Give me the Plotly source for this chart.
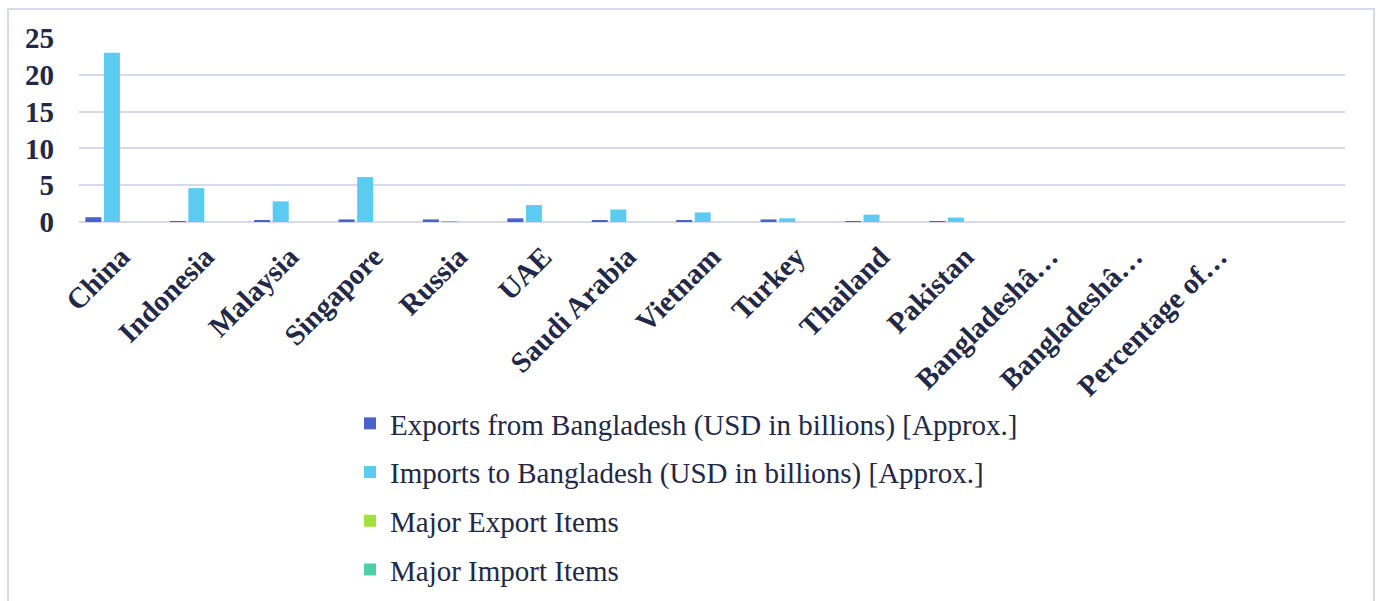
import plotly.graph_objects as go

categories = ["China", "Indonesia", "Malaysia", "Singapore", "Russia", "UAE",
              "Saudi Arabia", "Vietnam", "Turkey", "Thailand", "Pakistan",
              "Bangladeshâ…", "Bangladeshâ…", "Percentage of…"]
exports = [0.65, 0.1, 0.2, 0.35, 0.35, 0.5, 0.2, 0.2, 0.35, 0.05, 0.05, None, None, None]
imports = [23.0, 4.6, 2.8, 6.1, 0.05, 2.3, 1.7, 1.3, 0.5, 1.0, 0.6, None, None, None]
major_export_items = [None] * 14
major_import_items = [None] * 14

series_names = [
    "Exports from Bangladesh (USD in billions) [Approx.]",
    "Imports to Bangladesh (USD in billions) [Approx.]",
    "Major Export Items",
    "Major Import Items",
]
series_values = [exports, imports, major_export_items, major_import_items]
series_colors = ["#4a62cc", "#5ccbf0", "#a3e03c", "#4fcfa8"]

x_idx = list(range(len(categories)))
TEXT = "#222845"
GRID = "#d9d9ec"

fig = go.Figure()
for name, vals, col in zip(series_names, series_values, series_colors):
    fig.add_trace(go.Bar(x=x_idx, y=vals, name=name, marker_color=col,
                         marker_line_width=0, legendgroup=name))

L, R, T, B = 79, 35, 38, 379
W, H = 1380, 601
pw = W - L - R
ph = H - T - B

def px_x(p):
    return (p - L) / pw

def px_y(p):
    return (H - B - p) / ph

fig.update_layout(
    width=W, height=H,
    margin=dict(l=L, r=R, t=T, b=B, autoexpand=False),
    paper_bgcolor="white", plot_bgcolor="white",
    barmode="group", bargap=0.12, bargroupgap=0.14,
    font=dict(family="Liberation Serif, Times New Roman, serif", color=TEXT),
    showlegend=True,
    legend=dict(
        x=px_x(350), y=px_y(398), xanchor="left", yanchor="top",
        orientation="v", font=dict(size=29, color=TEXT),
        tracegroupgap=8, itemwidth=30, bgcolor="rgba(0,0,0,0)",
    ),
    xaxis=dict(
        tickmode="array", tickvals=x_idx, ticktext=categories,
        tickangle=-45, tickfont=dict(size=29, color=TEXT, family="Liberation Serif", weight="bold"),
        showgrid=False, showline=False, ticks="", ticklabelstandoff=11,
        ticklabelshift=0, automargin=False,
        range=[-0.5, len(categories) + 0.5],
    ),
    yaxis=dict(
        range=[0, 25], tickvals=[0, 5, 10, 15, 20, 25],
        tickfont=dict(size=29, color=TEXT, family="Liberation Serif", weight="bold"),
        showgrid=True, gridcolor=GRID, gridwidth=2,
        zeroline=True, zerolinecolor=GRID, zerolinewidth=2,
        showline=False, ticks="", ticklabelstandoff=24, automargin=False,
    ),
    shapes=[dict(
        type="rect", xref="paper", yref="paper",
        x0=px_x(8), x1=px_x(1374), y0=px_y(640), y1=px_y(9),
        line=dict(color=GRID, width=2), fillcolor="rgba(0,0,0,0)", layer="below",
    )],
)

fig.write_html("out.html")
